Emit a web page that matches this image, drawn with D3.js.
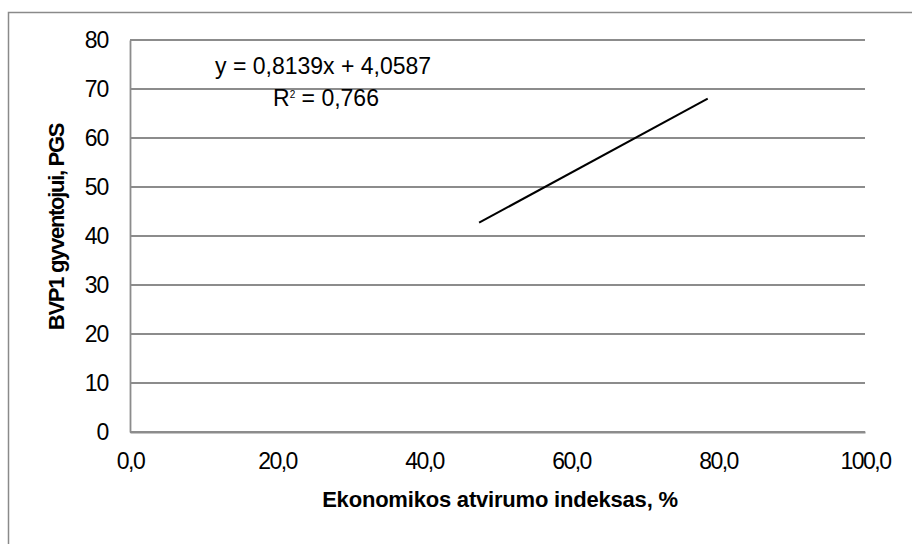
<!DOCTYPE html>
<html>
<head>
<meta charset="utf-8">
<script src="https://cdn.jsdelivr.net/npm/d3@7"></script>
<style>
  html, body { margin: 0; padding: 0; background: #fff; }
  svg { display: block; }
  text { font-family: "Liberation Sans", Arial, sans-serif; fill: #000; }
</style>
</head>
<body>
<svg id="chart" width="912" height="544"></svg>
<script>
// Linear trend of GDP per capita vs. economic openness
const xTicks = [0, 20, 40, 60, 80, 100];
const yTicks = [0, 10, 20, 30, 40, 50, 60, 70, 80];
const slope = 0.8139;
const intercept = 4.0587;
const rSquared = 0.766;
const xExtent = [47.5, 78.6];
const xTitle = "Ekonomikos atvirumo indeksas, %";
const yTitle = "BVP1 gyventojui, PGS";

const svg = d3.select("#chart");
const W = 912, H = 544;
const m = { left: 130, right: 47, top: 40, bottom: 112 };
const FONT = "Liberation Sans, Arial, sans-serif";

// outer chart frame
svg.append("rect")
  .attr("x", 8.5).attr("y", 12.5)
  .attr("width", W).attr("height", H)
  .attr("fill", "#fff").attr("stroke", "#8a8a8a").attr("stroke-width", 1.5);

const x = d3.scaleLinear().domain([0, 100]).range([m.left, W - m.right]);
const y = d3.scaleLinear().domain([0, 80]).range([H - m.bottom, m.top]);

const fmt = v => d3.format(".1f")(v).replace(".", ",");

// horizontal gridlines
svg.append("g").selectAll("line")
  .data(yTicks)
  .join("line")
  .attr("x1", x(0)).attr("x2", x(100))
  .attr("y1", d => y(d)).attr("y2", d => y(d))
  .attr("stroke", "#8c8c8c").attr("stroke-width", 1.8);

// y axis
const yAxis = svg.append("g")
  .attr("transform", `translate(${x(0)},0)`)
  .call(d3.axisLeft(y).tickValues(yTicks).tickSize(0).tickPadding(22));
yAxis.select(".domain").attr("stroke", "#8c8c8c").attr("stroke-width", 1.8);
yAxis.selectAll("text")
  .attr("font-size", 23).attr("font-family", FONT).attr("letter-spacing", -1.2);

// x axis
const xAxis = svg.append("g")
  .attr("transform", `translate(0,${y(0)})`)
  .call(d3.axisBottom(x).tickValues(xTicks).tickFormat(fmt).tickSize(0).tickPadding(21));
xAxis.select(".domain").attr("stroke", "#8c8c8c").attr("stroke-width", 1.8);
xAxis.selectAll("text")
  .attr("font-size", 23).attr("font-family", FONT).attr("letter-spacing", -1.5);

// trendline
const trend = xExtent.map(v => [v, slope * v + intercept]);
svg.append("path")
  .datum(trend)
  .attr("fill", "none").attr("stroke", "#000").attr("stroke-width", 2)
  .attr("d", d3.line().x(d => x(d[0])).y(d => y(d[1])));

// regression equation
const numFmt = (v, p) => v.toFixed(p).replace(".", ",");
svg.append("text")
  .attr("x", 215).attr("y", 74)
  .attr("font-size", 23)
  .text(`y = ${numFmt(slope, 4)}x + ${numFmt(intercept, 4)}`);
const r2 = svg.append("text")
  .attr("x", 273).attr("y", 106)
  .attr("font-size", 23);
r2.append("tspan").text("R");
r2.append("tspan").attr("font-size", 10).attr("dy", -8).text("2");
r2.append("tspan").attr("dy", 8).text(` = ${numFmt(rSquared, 3)}`);

// axis titles
svg.append("text")
  .attr("x", 500).attr("y", 507)
  .attr("text-anchor", "middle")
  .attr("font-size", 22).attr("font-weight", "bold").attr("letter-spacing", -0.2)
  .text(xTitle);

svg.append("text")
  .attr("transform", `translate(64,227) rotate(-90)`)
  .attr("text-anchor", "middle")
  .attr("font-size", 22).attr("font-weight", "bold").attr("letter-spacing", -1.3)
  .text(yTitle);
</script>
</body>
</html>
